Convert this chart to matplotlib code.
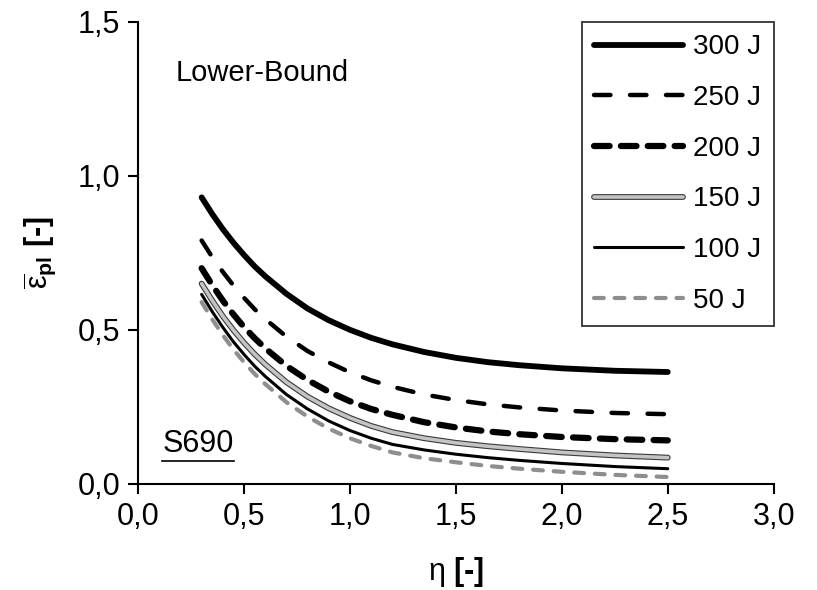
import numpy as np
import matplotlib
matplotlib.use("Agg")
import matplotlib.pyplot as plt
import matplotlib.patheffects as pe
from matplotlib.lines import Line2D

plt.rcParams['font.family'] = ['Liberation Sans', 'DejaVu Sans']
plt.rcParams['mathtext.fontset'] = 'custom'
plt.rcParams['mathtext.rm'] = 'Liberation Sans'
plt.rcParams['mathtext.bf'] = 'Liberation Sans:bold'
plt.rcParams['mathtext.it'] = 'Liberation Sans:italic'

# data
eta = [0.3, 0.35, 0.4, 0.45, 0.5, 0.55, 0.6, 0.7, 0.8, 0.9, 1.0,
       1.1, 1.2, 1.35, 1.5, 1.65, 1.8, 2.0, 2.25, 2.5]
eps_300 = [0.930, 0.876, 0.827, 0.783, 0.743, 0.706, 0.674, 0.617, 0.569, 0.531, 0.500,
           0.474, 0.453, 0.428, 0.409, 0.395, 0.385, 0.375, 0.367, 0.363]
eps_250 = [0.790, 0.736, 0.688, 0.644, 0.604, 0.567, 0.535, 0.478, 0.431, 0.394, 0.362,
           0.336, 0.315, 0.290, 0.272, 0.258, 0.248, 0.238, 0.230, 0.226]
eps_200 = [0.700, 0.645, 0.595, 0.550, 0.509, 0.473, 0.440, 0.383, 0.337, 0.299, 0.268,
           0.243, 0.224, 0.200, 0.183, 0.170, 0.161, 0.152, 0.145, 0.141]
eps_150 = [0.650, 0.595, 0.544, 0.499, 0.458, 0.421, 0.388, 0.330, 0.283, 0.245, 0.214,
           0.188, 0.168, 0.148, 0.133, 0.122, 0.113, 0.102, 0.092, 0.085]
eps_100 = [0.615, 0.559, 0.508, 0.461, 0.420, 0.382, 0.349, 0.290, 0.243, 0.204, 0.173,
           0.148, 0.128, 0.110, 0.096, 0.085, 0.076, 0.066, 0.056, 0.049]
eps_50 = [0.590, 0.534, 0.483, 0.436, 0.395, 0.357, 0.324, 0.265, 0.218, 0.179, 0.148,
          0.123, 0.102, 0.083, 0.070, 0.058, 0.049, 0.039, 0.029, 0.022]

labels = ['300 J', '250 J', '200 J', '150 J', '100 J', '50 J']
xticks = [0.0, 0.5, 1.0, 1.5, 2.0, 2.5, 3.0]
xtick_labels = ['0,0', '0,5', '1,0', '1,5', '2,0', '2,5', '3,0']
yticks = [0.0, 0.5, 1.0, 1.5]
ytick_labels = ['0,0', '0,5', '1,0', '1,5']

fig = plt.figure(figsize=(8.17, 5.9), dpi=100)
ax = fig.add_axes([0.169, 0.180, 0.778, 0.783])

kw = dict(solid_capstyle='round', dash_capstyle='round')
ax.plot(eta, eps_300, color='black', lw=4.2, label=labels[0], **kw)
ax.plot(eta, eps_250, color='black', lw=3.2, dashes=(3.7, 4.4), label=labels[1], **kw)
ax.plot(eta, eps_200, color='black', lw=4.5, dashes=(2.5, 1.8), label=labels[2], **kw)
ax.plot(eta, eps_150, color='#c4c4c4', lw=2.6, label=labels[3],
        path_effects=[pe.Stroke(linewidth=4.2, foreground='#3a3a3a'), pe.Normal()], **kw)
ax.plot(eta, eps_100, color='black', lw=2.2, label=labels[4], **kw)
ax.plot(eta, eps_50, color='#8e8e8e', lw=3.0, dashes=(2.35, 2.6), label=labels[5], **kw)

ax.set_xlim(0, 3.0)
ax.set_ylim(0, 1.5)
ax.set_xticks(xticks, labels=xtick_labels)
ax.set_yticks(yticks, labels=ytick_labels)
ax.tick_params(direction='out', length=7, width=1.5, labelsize=22, pad=6)
for s in ['top', 'right']:
    ax.spines[s].set_visible(False)
for s in ['left', 'bottom']:
    ax.spines[s].set_linewidth(1.5)

ax.set_xlabel(r'$\mathrm{\eta}$ [-]', fontsize=22, fontweight='bold', labelpad=17)
ax.set_ylabel(r'$\overline{\mathrm{\varepsilon}}_{\mathbf{pl}}$ [-]', fontsize=22,
              fontweight='bold', labelpad=14)

ax.text(0.175, 1.335, 'Lower-Bound', fontsize=21, ha='left', va='center')
s690 = ax.text(0.115, 0.128, 'S690', fontsize=22, ha='left', va='center')

leg = ax.legend(loc='upper right', fontsize=20, frameon=True, fancybox=False,
                borderaxespad=0, handlelength=3.2, handletextpad=0.35,
                labelspacing=0.89, borderpad=0.45)
leg.get_frame().set_edgecolor('black')
leg.get_frame().set_linewidth(1.3)

# underline under S690
fig.canvas.draw()
bb = s690.get_window_extent().transformed(fig.transFigure.inverted())
fig.add_artist(Line2D([bb.x0, bb.x1], [bb.y0 - 0.002, bb.y0 - 0.002],
                      transform=fig.transFigure, color='black', lw=1.2))

fig.savefig('out.png', dpi=100)
